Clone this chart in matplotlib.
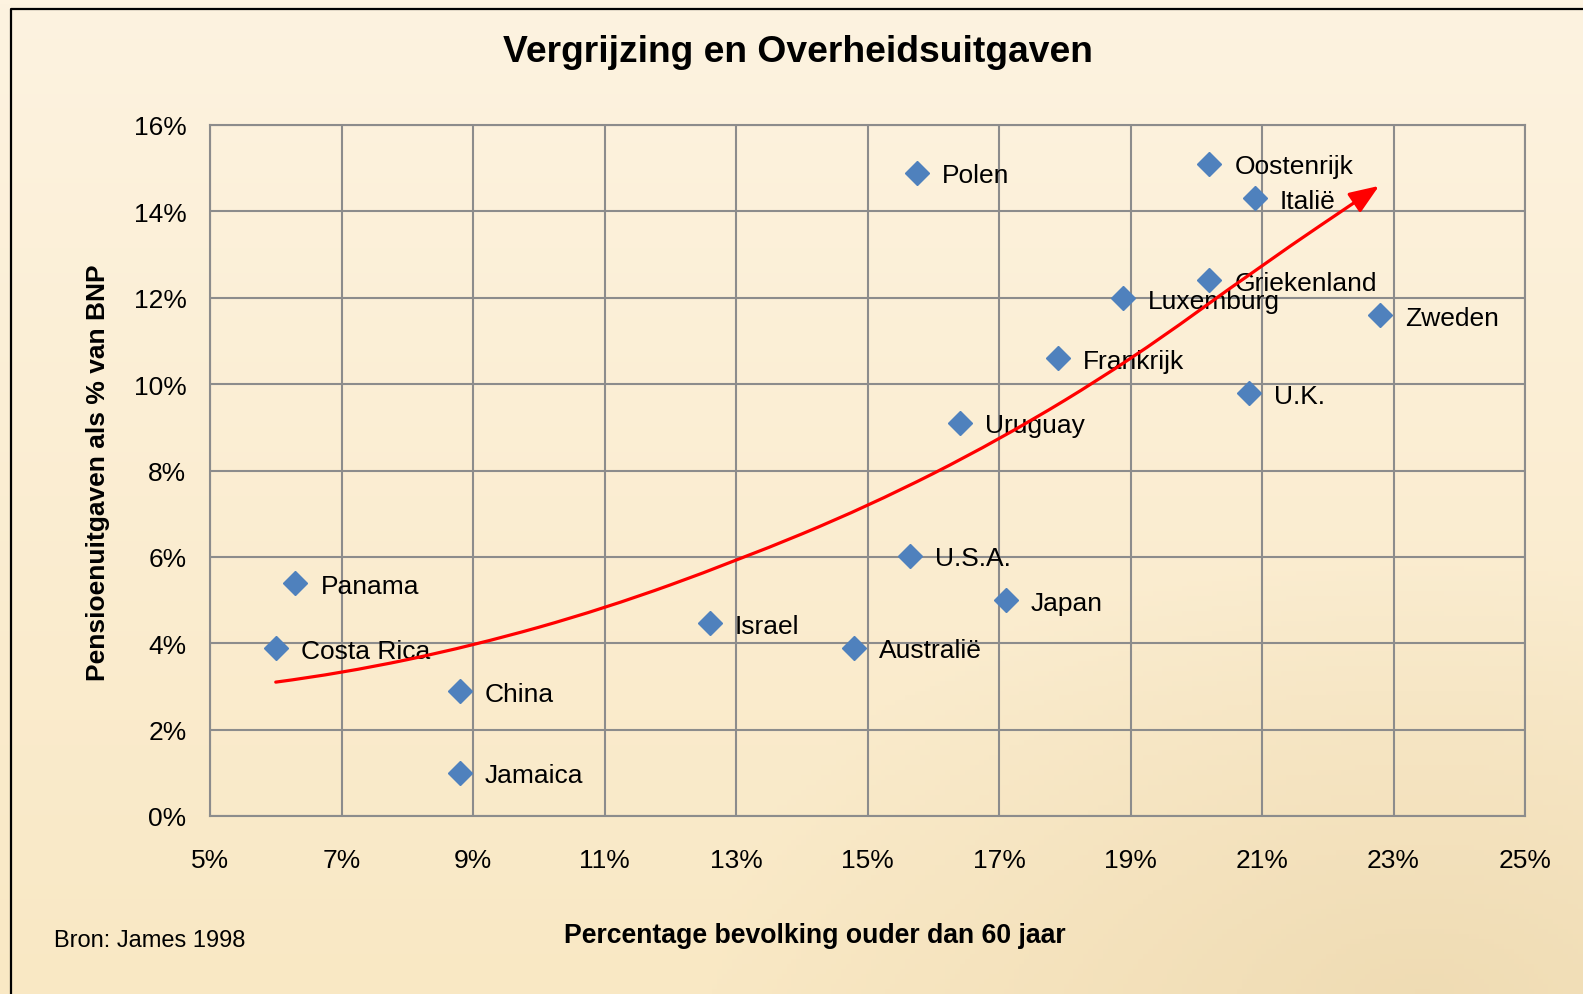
#!/usr/bin/env python3
"""Vergrijzing en Overheidsuitgaven - scatter with hand drawn trend arrow."""

import matplotlib
matplotlib.use("Agg")
import matplotlib.pyplot as plt
import numpy as np
from matplotlib.path import Path
from matplotlib.patches import FancyArrowPatch
from matplotlib.ticker import FuncFormatter

plt.rcParams["font.family"] = ["Liberation Sans", "DejaVu Sans"]

# --- data ---
countries = ["Panama", "Costa Rica", "China", "Jamaica", "Israel", "Australië",
             "U.S.A.", "Japan", "Polen", "Uruguay", "Frankrijk", "Luxemburg",
             "Griekenland", "Oostenrijk", "Italië", "U.K.", "Zweden"]
aged_60_plus = [6.30, 6.00, 8.80, 8.80, 12.60, 14.80,
                15.64, 17.10, 15.75, 16.40, 17.89, 18.89,
                20.20, 20.20, 20.89, 20.80, 22.79]
pension_pct_gdp = [5.39, 3.89, 2.89, 1.00, 4.46, 3.90,
                   6.03, 5.00, 14.90, 9.11, 10.60, 11.99,
                   12.41, 15.10, 14.30, 9.79, 11.60]

# trend arrow drawn on the slide
trend_x = [6.0, 7.0, 9.0, 11.0, 13.0, 15.0, 17.0, 19.0, 21.0, 22.78]
trend_y = [3.10, 3.30, 3.94, 4.80, 5.90, 7.16, 8.70, 10.55, 12.76, 14.59]

x_ticks = [5, 7, 9, 11, 13, 15, 17, 19, 21, 23, 25]
y_ticks = [0, 2, 4, 6, 8, 10, 12, 14, 16]

W, H = 1583, 995
fig = plt.figure(figsize=(W / 100, H / 100), dpi=100)

# --- slide background: soft cream gradient ---
bg = fig.add_axes([0, 0, 1, 1], zorder=-10)
yy, xx = np.mgrid[0:1:200j, 0:1:320j]
top = np.array([253, 243, 224]) / 255
bot = np.array([249, 232, 196]) / 255
grad = top[None, None, :] * (1 - yy[..., None]) + bot[None, None, :] * yy[..., None]
# faint darker tint where the old photo sits (bottom right)
d = np.clip(1 - np.hypot((xx - 0.9) / 0.45, (yy - 1.0) / 0.45), 0, 1)
tint = np.array([228, 205, 160]) / 255
grad = grad * (1 - 0.45 * d[..., None]) + tint * 0.45 * d[..., None]
bg.imshow(grad, aspect="auto", extent=[0, 1, 0, 1], origin="upper")
bg.set_xlim(0, 1)
bg.set_ylim(0, 1)
bg.axis("off")
# black frame of the slide
bg.plot([11 / W, 11 / W, 1.01], [-0.01, 1 - 9.5 / H, 1 - 9.5 / H],
        color="black", lw=1.6, solid_capstyle="butt")

# --- chart ---
ax = fig.add_axes([210 / W, 1 - 817 / H, (1525 - 210) / W, (817 - 126) / H])
ax.patch.set_alpha(0)
ax.set_xlim(5, 25)
ax.set_ylim(0, 16)
ax.set_xticks(x_ticks)
ax.set_yticks(y_ticks)
pct = FuncFormatter(lambda v, _: f"{v:.0f}%")
ax.xaxis.set_major_formatter(pct)
ax.yaxis.set_major_formatter(pct)
ax.tick_params(length=0, labelsize=19)
ax.tick_params(axis="x", pad=23)
ax.tick_params(axis="y", pad=17)
ax.grid(True, color="#8c8c8c", lw=1.5)
ax.set_axisbelow(True)
for s in ax.spines.values():
    s.set_color("#8c8c8c")
    s.set_linewidth(1.5)

ax.plot(aged_60_plus, pension_pct_gdp, linestyle="none", marker="D",
        ms=12.5, color="#4f81bd", zorder=3)
for name, x, y in zip(countries, aged_60_plus, pension_pct_gdp):
    ax.annotate(name, (x, y), xytext=(18, 0), textcoords="offset points",
                fontsize=19, va="center_baseline", ha="left", zorder=4)

# smooth curve through the read points (quadratic bezier segments)
pts = list(zip(trend_x, trend_y))
verts = [pts[0]]
codes = [Path.MOVETO]
for i in range(1, len(pts) - 1):
    mid = ((pts[i][0] + pts[i + 1][0]) / 2, (pts[i][1] + pts[i + 1][1]) / 2)
    verts += [pts[i], mid]
    codes += [Path.CURVE3, Path.CURVE3]
verts.append(pts[-1])
codes.append(Path.LINETO)
arrow = FancyArrowPatch(path=Path(verts, codes),
                        arrowstyle="-|>,head_length=0.9,head_width=0.35",
                        mutation_scale=20, color="red", lw=2.3, zorder=5,
                        capstyle="round")
ax.add_patch(arrow)

fig.text(798 / W, 1 - 53 / H, "Vergrijzing en Overheidsuitgaven",
         ha="center", va="center", fontsize=26.8, fontweight="bold")
fig.text(815 / W, 1 - 936 / H, "Percentage bevolking ouder dan 60 jaar",
         ha="center", va="center", fontsize=19.2, fontweight="bold")
fig.text(98 / W, 1 - 473 / H, "Pensioenuitgaven als % van BNP",
         ha="center", va="center", rotation=90, fontsize=19, fontweight="bold")
fig.text(54 / W, 1 - 941 / H, "Bron: James 1998",
         ha="left", va="center", fontsize=17)

fig.savefig("out.png", dpi=100)
